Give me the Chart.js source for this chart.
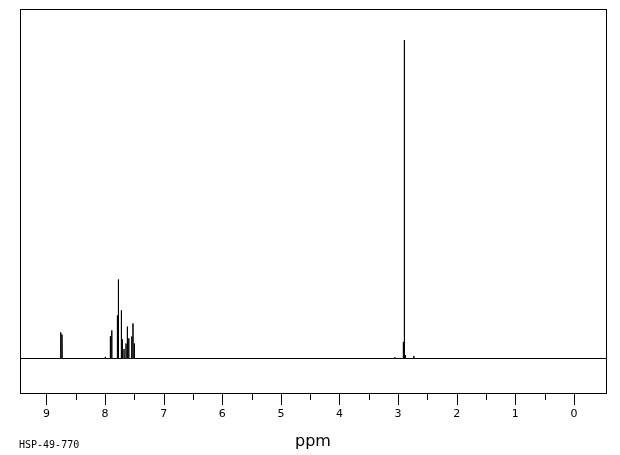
<!DOCTYPE html>
<html>
<head>
<meta charset="utf-8">
<script src="https://cdn.jsdelivr.net/npm/chart.js@4/dist/chart.umd.min.js"></script>
<style>
  html, body { margin: 0; padding: 0; background: #fff; }
  #wrap { position: relative; width: 620px; height: 455px; }
  #code { position: absolute; left: 19px; top: 439px; font: 10px "DejaVu Sans Mono", monospace; color: #000; line-height: 12px; white-space: nowrap; }
</style>
</head>
<body>
<div id="wrap">
  <canvas id="c" width="620" height="455"></canvas>
  <div id="code">HSP-49-770</div>
</div>
<script>
// Peak positions (ppm) and relative intensities
const shifts = [8.756, 8.734, 7.995, 7.910, 7.886, 7.790, 7.773, 7.722, 7.705, 7.676, 7.642, 7.620, 7.596, 7.545, 7.523, 7.500, 3.058, 2.912, 2.895, 2.878, 2.734];
const heights = [8.2, 7.5, 0.5, 7.0, 8.8, 13.5, 24.8, 15.1, 6.0, 3.0, 4.7, 10.0, 6.3, 6.9, 11.0, 4.7, 0.4, 5.2, 100, 1.0, 0.8];
const tickValues = [0, 1, 2, 3, 4, 5, 6, 7, 8, 9];
const xMin = -0.546, xMax = 9.450;
const yMin = -10.84, yMax = 109.76;

const halfWidth = 0.004;
const points = [{x: xMax, y: 0}];
shifts.forEach((s, i) => {
  points.push({x: s + halfWidth, y: 0});
  points.push({x: s, y: heights[i]});
  points.push({x: s - halfWidth, y: 0});
});
points.push({x: xMin, y: 0});

const framePlugin = {
  id: 'frame',
  afterDraw(chart) {
    const {ctx, chartArea: a} = chart;
    const xs = chart.scales.x;
    ctx.save();
    ctx.strokeStyle = '#000';
    ctx.lineWidth = 1;
    ctx.strokeRect(a.left + 0.5, a.top + 0.5, a.right - a.left, a.bottom - a.top);
    const vals = xs.ticks.map(t => t.value);
    ctx.beginPath();
    vals.forEach(v => {
      const px = Math.round(xs.getPixelForValue(v)) + 0.5;
      ctx.moveTo(px, a.bottom + 1);
      ctx.lineTo(px, a.bottom + 12);
    });
    for (let i = 0; i < vals.length - 1; i++) {
      const px = Math.round(xs.getPixelForValue((vals[i] + vals[i + 1]) / 2)) + 0.5;
      ctx.moveTo(px, a.bottom + 1);
      ctx.lineTo(px, a.bottom + 7);
    }
    ctx.stroke();
    ctx.restore();
  }
};

new Chart(document.getElementById('c'), {
  type: 'line',
  data: {
    datasets: [{
      data: points,
      borderColor: '#000',
      borderWidth: 1,
      pointRadius: 0,
      tension: 0,
      fill: false
    }]
  },
  options: {
    responsive: false,
    animation: false,
    events: [],
    layout: { padding: { left: 20, right: 14, top: 9, bottom: 0 } },
    plugins: { legend: { display: false }, tooltip: { enabled: false } },
    scales: {
      x: {
        type: 'linear',
        reverse: true,
        min: xMin,
        max: xMax,
        afterFit(scale) { scale.height = 62; },
        afterBuildTicks(scale) { scale.ticks = tickValues.map(v => ({value: v})); },
        grid: { display: false, drawTicks: false },
        border: { display: false },
        ticks: {
          color: '#000',
          padding: 15,
          maxRotation: 0,
          font: { family: 'DejaVu Sans', size: 11 },
          callback: v => String(v)
        },
        title: {
          display: true,
          text: 'ppm',
          color: '#000',
          font: { family: 'DejaVu Sans', size: 16 },
          padding: { top: 0, bottom: 4 }
        }
      },
      y: {
        display: false,
        min: yMin,
        max: yMax
      }
    }
  },
  plugins: [framePlugin]
});
</script>
</body>
</html>
